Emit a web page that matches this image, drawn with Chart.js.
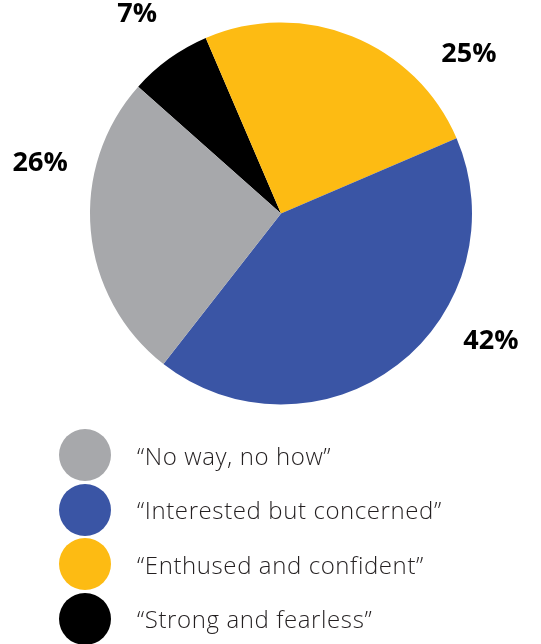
<!DOCTYPE html>
<html>
<head>
<meta charset="utf-8">
<script src="https://cdn.jsdelivr.net/npm/chart.js@4.4.0/dist/chart.umd.min.js"></script>
<style>
  html, body { margin: 0; padding: 0; background: #fff; }
  #wrap { position: relative; width: 541px; height: 644px; }
  #pieWrap { position: absolute; left: 0; top: 0; width: 541px; height: 430px; }
  #legend { position: absolute; left: 59px; top: 428px; font-family: "Open Sans", sans-serif; font-weight: 300; font-size: 24px; letter-spacing: 0.6px; color: #231f20; }
  .item { display: flex; align-items: center; height: 54.5px; }
  .dot { width: 52px; height: 52px; border-radius: 50%; margin-right: 26px; }
</style>
</head>
<body>
<div id="wrap">
  <div id="pieWrap"><canvas id="pieChart"></canvas></div>
  <div id="legend"></div>
</div>
<script>
const labels = ["\u201cNo way, no how\u201d", "\u201cInterested but concerned\u201d", "\u201cEnthused and confident\u201d", "\u201cStrong and fearless\u201d"];
const shares = [26, 42, 25, 7];
const colors = ["#a7a8ab", "#3a55a5", "#fdbb13", "#000000"];

// the original pie runs counter-clockwise, so feed the slices in reverse
const pieLabels = labels.slice().reverse();
const pieShares = shares.slice().reverse();
const pieColors = colors.slice().reverse();

// percent labels outside the pie
const outsideLabels = {
  id: "outsideLabels",
  afterDatasetsDraw(chart, args, opts) {
    const ctx = chart.ctx;
    const meta = chart.getDatasetMeta(0);
    ctx.save();
    ctx.font = "bold 27px 'Open Sans', sans-serif";
    ctx.fillStyle = "#000";
    ctx.textAlign = "center";
    ctx.textBaseline = "middle";
    meta.data.forEach((arc, i) => {
      const mid = (arc.startAngle + arc.endAngle) / 2 + opts.shift[i] * Math.PI / 180;
      const r = opts.radius;
      const x = arc.x + Math.cos(mid) * r;
      const y = arc.y + Math.sin(mid) * r;
      ctx.fillText(chart.data.datasets[0].data[i] + "%", x, y);
    });
    ctx.restore();
  }
};

new Chart(document.getElementById("pieChart"), {
  type: "pie",
  data: {
    labels: pieLabels,
    datasets: [{
      data: pieShares,
      backgroundColor: pieColors,
      borderWidth: 0
    }]
  },
  options: {
    responsive: true,
    maintainAspectRatio: false,
    animation: false,
    rotation: 311.6,
    layout: { padding: { left: 90, right: 69, top: 22, bottom: 25 } },
    plugins: {
      legend: { display: false },
      tooltip: { enabled: false },
      outsideLabels: { radius: 246, shift: [0, 28, -21, 17] }
    }
  },
  plugins: [outsideLabels]
});

const legend = document.getElementById("legend");
labels.forEach((l, i) => {
  const row = document.createElement("div");
  row.className = "item";
  row.innerHTML = `<span class="dot" style="background:${colors[i]}"></span><span>${l}</span>`;
  legend.appendChild(row);
});
</script>
</body>
</html>
